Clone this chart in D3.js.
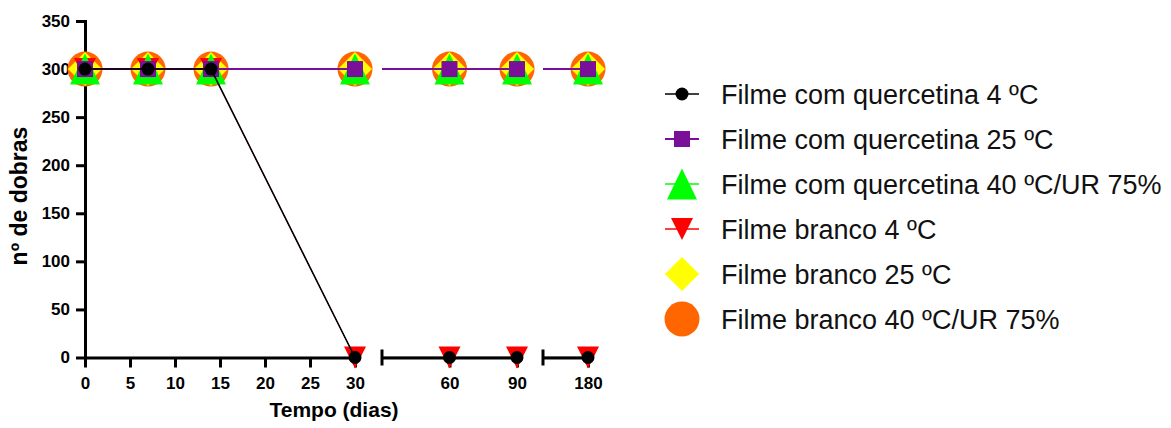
<!DOCTYPE html>
<html><head><meta charset="utf-8">
<script src="https://cdn.jsdelivr.net/npm/d3@7"></script>
<style>
body{margin:0;background:#fff}
svg{display:block}
text{font-family:"Liberation Sans",Arial,sans-serif}
</style>
</head><body><svg id="c" width="1171" height="428"></svg>
<script>
// ---- data ----
const days = [0, 7, 14, 30, 60, 90, 180];
const seriesNames = [
  "Filme com quercetina 4 ºC",
  "Filme com quercetina 25 ºC",
  "Filme com quercetina 40 ºC/UR 75%",
  "Filme branco 4 ºC",
  "Filme branco 25 ºC",
  "Filme branco 40 ºC/UR 75%"
];
const comQuercetina4  = [300, 300, 300, 0, 0, 0, 0];
const comQuercetina25 = [300, 300, 300, 300, 300, 300, 300];
const comQuercetina40 = [300, 300, 300, 300, 300, 300, 300];
const branco4         = [300, 300, 300, 0, 0, 0, 0];
const branco25        = [300, 300, 300, 300, 300, 300, 300];
const branco40        = [300, 300, 300, 300, 300, 300, 300];
const yTicks = [0, 50, 100, 150, 200, 250, 300, 350];
const yDomain = [0, 350];
const segDomain1 = [0, 30],  segTicks1 = [0, 5, 10, 15, 20, 25, 30];
const segDomain2 = [30, 90], segTicks2 = [60, 90];
const segDomain3 = [90, 180], segTicks3 = [180];
const xTitle = "Tempo (dias)";
const yTitle = "nº de dobras";

// ---- styles ----
const styles = [
  {color:"#000000", line:"#000000", lw:1.6, shape:"circle",  size:6.5},
  {color:"#7a0f99", line:"#7a0f99", lw:2,   shape:"square",  size:16},
  {color:"#00ff00", line:"#00ff00", lw:1.5, shape:"triUp",   size:[30,31]},
  {color:"#ff0000", line:"#ff0000", lw:1.0, shape:"triDown", size:[22,22]},
  {color:"#ffff00", line:"#ffff00", lw:1.0, shape:"diamond", size:17},
  {color:"#ff6600", line:"#ff6600", lw:1.0, shape:"circle",  size:17.5}
];
const seriesValues = [comQuercetina4, comQuercetina25, comQuercetina40, branco4, branco25, branco40];
const series = seriesNames.map((n,i)=>({name:n, values:seriesValues[i], ...styles[i]}));

function markerPath(shape, s){
  const p = d3.path();
  if (shape==="circle"){ p.arc(0,0,s,0,2*Math.PI); }
  else if (shape==="square"){ p.rect(-s/2,-s/2,s,s); }
  else if (shape==="triUp"){ const [w,h]=s; p.moveTo(0,-h/2); p.lineTo(w/2,h/2); p.lineTo(-w/2,h/2); p.closePath(); }
  else if (shape==="triDown"){ const [w,h]=s; p.moveTo(0,h/2); p.lineTo(w/2,-h/2); p.lineTo(-w/2,-h/2); p.closePath(); }
  else if (shape==="diamond"){ p.moveTo(0,-s); p.lineTo(s,0); p.lineTo(0,s); p.lineTo(-s,0); p.closePath(); }
  return p.toString();
}

const svg = d3.select("#c");
const y = d3.scaleLinear().domain(yDomain).range([357.5, 21]);
const segments = [
  {domain:segDomain1, range:[85,355], ticks:segTicks1, cap:false},
  {domain:segDomain2, range:[382,517], ticks:segTicks2, cap:true},
  {domain:segDomain3, range:[543,588], ticks:segTicks3, cap:true}
];
segments.forEach(s=> s.x = d3.scaleLinear().domain(s.domain).range(s.range));
function ownerSeg(d){
  return segments.find((s,i)=> (i===0 ? d>=s.domain[0] : d>s.domain[0]) && d<=s.domain[1]);
}

// ---- axes ----
const yAxis = d3.axisLeft(y).tickValues(yTicks).tickSize(9).tickSizeOuter(0).tickPadding(6);
const gy = svg.append("g").attr("transform","translate(85,0)").call(yAxis);
gy.selectAll("path,line").attr("stroke","#000").attr("stroke-width",3);
gy.select(".domain").attr("stroke-linecap","square");
gy.selectAll("text").attr("font-size",17).attr("font-weight","bold").attr("fill","#000")
  .attr("font-family","'Liberation Sans',Arial,sans-serif");

segments.forEach((s,i)=>{
  const ax = d3.axisBottom(s.x).tickValues(s.ticks).tickSize(10).tickSizeOuter(0).tickPadding(9).tickFormat(d3.format("d"));
  const g = svg.append("g").attr("transform",`translate(0,${y(0)})`).call(ax);
  g.selectAll("path,line").attr("stroke","#000").attr("stroke-width",3);
  if (i===0) g.select(".domain").attr("stroke-linecap","square");
  g.selectAll("text").attr("font-size",17).attr("font-weight","bold").attr("fill","#000")
    .attr("font-family","'Liberation Sans',Arial,sans-serif");
  if (s.cap){
    g.append("line").attr("x1",s.range[0]).attr("x2",s.range[0]).attr("y1",-8).attr("y2",8)
      .attr("stroke","#000").attr("stroke-width",3);
  }
  svg.append("clipPath").attr("id","clip"+i).append("rect")
    .attr("x",s.range[0]).attr("y",0).attr("width",s.range[1]-s.range[0]+1).attr("height",428);
});

// ---- titles ----
svg.append("text").attr("x",334).attr("y",417).attr("text-anchor","middle")
  .attr("font-size",21).attr("font-weight","bold").text(xTitle);
svg.append("text").attr("transform","translate(27,196) rotate(-90)").attr("text-anchor","middle")
  .attr("font-size",23).attr("font-weight","bold").text(yTitle);

// ---- series (drawn last-to-first so the first is on top) ----
const plot = svg.append("g");
series.slice().reverse().forEach(se=>{
  const pts = days.map((d,i)=>({d, v:se.values[i]}));
  segments.forEach((s,i)=>{
    const sub = pts.filter(p=> p.d>=s.domain[0] && p.d<=s.domain[1]);
    if (sub.length<2) return;
    const line = d3.line().x(p=>s.x(p.d)).y(p=>y(p.v));
    plot.append("path").attr("d",line(sub)).attr("fill","none")
      .attr("stroke",se.line).attr("stroke-width",se.lw).attr("clip-path",`url(#clip${i})`);
  });
  plot.selectAll(null).data(pts).enter().append("path")
    .attr("d",markerPath(se.shape,se.size))
    .attr("transform",p=>`translate(${ownerSeg(p.d).x(p.d)},${y(p.v)})`)
    .attr("fill",se.color);
});

// ---- legend ----
const lg = svg.append("g");
series.forEach((se,i)=>{
  const cy = 94 + 45*i;
  lg.append("line").attr("x1",665).attr("x2",699).attr("y1",cy).attr("y2",cy)
    .attr("stroke",se.line).attr("stroke-width",Math.max(se.lw,1.5));
  lg.append("path").attr("d",markerPath(se.shape,se.size)).attr("transform",`translate(682,${cy})`).attr("fill",se.color);
  lg.append("text").attr("x",721).attr("y",cy+9.5).attr("font-size",27).attr("fill","#111").text(se.name);
});
</script></body></html>
